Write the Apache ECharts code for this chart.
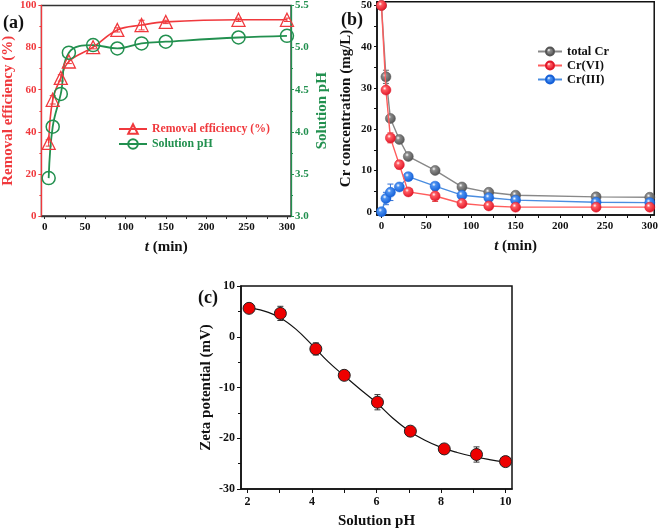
<!DOCTYPE html>
<html><head><meta charset="utf-8">
<script src="https://cdn.jsdelivr.net/npm/echarts@6/dist/echarts.min.js"></script>
<style>html,body{margin:0;padding:0;background:#fff}#c{width:661px;height:530px}</style>
</head><body><div id="c"></div>
<script>
// ---------- Data ----------
// Panel (a)
const timeA = [5, 10, 20, 30, 60, 90, 120, 150, 240, 300];
const removalEff = [34.7, 55.2, 65.6, 73.4, 80.2, 88.4, 90.7, 92.2, 93.2, 93.2];
const removalErr = [1.5, 2.0, 1.5, 1.0, 0.8, 1.0, 2.3, 0.8, 0.8, 0.8];
const solutionPH = [3.45, 4.06, 4.45, 4.94, 5.03, 4.99, 5.05, 5.07, 5.12, 5.14];
const xTicksT = [0, 50, 100, 150, 200, 250, 300];
const xMinorT = [0, 25, 50, 75, 100, 125, 150, 175, 200, 225, 250, 275, 300];
// Panel (b)
const timeB = [0, 5, 10, 20, 30, 60, 90, 120, 150, 240, 300];
const totalCr = [50, 32.7, 22.6, 17.5, 13.4, 10.0, 6.0, 4.7, 4.0, 3.6, 3.5];
const totalCrErr = [0, 1.6, 0.5, 0.5, 0.3, 0.5, 0.3, 0.3, 0.3, 0.3, 0.3];
const cr6 = [50, 29.5, 17.9, 11.4, 4.8, 3.8, 2.0, 1.4, 1.1, 1.1, 1.1];
const cr6Err = [0, 0.5, 1.2, 1.0, 0.5, 1.3, 0.3, 0.3, 0.3, 0.3, 0.3];
const cr3 = [0, 3.2, 4.7, 6.0, 8.5, 6.2, 4.0, 3.4, 2.8, 2.3, 2.2];
const cr3Err = [0, 1.5, 2.0, 0.5, 0.5, 0.5, 0.3, 0.3, 0.3, 0.3, 0.3];
const yTicksB = [0, 10, 20, 30, 40, 50];
const yMinorB = [0, 5, 10, 15, 20, 25, 30, 35, 40, 45, 50];
// Panel (c)
const pHc = [2.05, 3.02, 4.12, 5.0, 6.03, 7.05, 8.1, 9.1, 10.0];
const zeta = [5.6, 4.6, -2.4, -7.6, -12.9, -18.6, -22.1, -23.2, -24.6];
const zetaErr = [0.8, 1.4, 1.2, 0.4, 1.5, 0.5, 0.4, 1.5, 0.4];
// fitted curve
const fitPH = [2.0, 2.5, 3.0, 3.5, 4.0, 4.5, 5.0, 5.5, 6.0, 6.5, 7.0, 7.5, 8.0, 8.5, 9.0, 9.5, 10.0];
const fitZeta = [5.8, 5.1, 3.8, 1.5, -1.6, -4.9, -7.7, -10.4, -13.0, -16.0, -18.5, -20.4, -21.8, -22.8, -23.6, -24.2, -24.7];
const xTicksC = [2, 4, 6, 8, 10];
const xMinorC = [2, 3, 4, 5, 6, 7, 8, 9, 10];

// ---------- Styles ----------
const FF = '"Liberation Serif", "Times New Roman", serif';
const RED = '#f0393d';
const GREEN = '#22904f';
const BLK = '#111';

function pairs(xs, ys) { return xs.map((x, i) => [x, ys[i]]); }
function errBars(xs, ys, es, xi, yi, color, cap) {
  return {
    type: 'custom', xAxisIndex: xi, yAxisIndex: yi, z: 1, silent: true,
    encode: { x: 0, y: [1, 2] },
    data: xs.map((x, i) => [x, ys[i] - es[i], ys[i] + es[i]]),
    renderItem: function (params, api) {
      const lo = api.coord([api.value(0), api.value(1)]);
      const hi = api.coord([api.value(0), api.value(2)]);
      const st = { stroke: color, lineWidth: 1 };
      return { type: 'group', children: [
        { type: 'line', shape: { x1: lo[0], y1: lo[1], x2: hi[0], y2: hi[1] }, style: st },
        { type: 'line', shape: { x1: lo[0] - cap, y1: lo[1], x2: lo[0] + cap, y2: lo[1] }, style: st },
        { type: 'line', shape: { x1: hi[0] - cap, y1: hi[1], x2: hi[0] + cap, y2: hi[1] }, style: st }
      ]};
    }
  };
}
function sphere(base, light) {
  return { type: 'radial', x: 0.38, y: 0.35, r: 0.65,
    colorStops: [{ offset: 0, color: '#ffffff' }, { offset: 0.28, color: light }, { offset: 1, color: base }] };
}
const lbl = (color, extra) => Object.assign({ fontFamily: FF, fontWeight: 'bold', fontSize: 11, color: color, margin: 6 }, extra || {});
const nameStyle = (color) => ({ fontFamily: FF, fontWeight: 'bold', fontSize: 15, color: color,
  rich: { i: { fontFamily: FF, fontWeight: 'bold', fontStyle: 'italic', fontSize: 15, color: color } } });

const option = {
  animation: false,
  backgroundColor: '#fff',
  title: [
    { text: '(a)', left: -2, top: 9, textStyle: { fontFamily: FF, fontWeight: 'bold', fontSize: 18, color: BLK } },
    { text: '(b)', left: 336, top: 6, textStyle: { fontFamily: FF, fontWeight: 'bold', fontSize: 18, color: BLK } },
    { text: '(c)', left: 193, top: 284, textStyle: { fontFamily: FF, fontWeight: 'bold', fontSize: 18, color: BLK } }
  ],
  legend: [
    { left: 113, top: 118, orient: 'vertical', itemGap: 3, itemWidth: 28, itemHeight: 12,
      data: [
        { name: 'Removal efficiency (%)', textStyle: { color: RED } },
        { name: 'Solution pH', textStyle: { color: GREEN } }
      ],
      textStyle: { fontFamily: FF, fontWeight: 'bold', fontSize: 11.8 } },
    { left: 532, top: 40, orient: 'vertical', itemGap: 1, itemWidth: 24, itemHeight: 10,
      data: ['total Cr', 'Cr(VI)', 'Cr(III)'],
      textStyle: { fontFamily: FF, fontWeight: 'bold', fontSize: 12.5, color: BLK } }
  ],
  grid: [
    { left: 39, top: 5, width: 252, height: 211, show: true, borderColor: '#333', borderWidth: 1.3, backgroundColor: 'transparent' },
    { left: 377, top: 1, width: 281, height: 214, show: true, borderColor: '#111', borderWidth: 1.5, backgroundColor: 'transparent' },
    { left: 241, top: 286, width: 271, height: 203, show: true, borderColor: '#111', borderWidth: 1.5, backgroundColor: 'transparent' }
  ],
  xAxis: [
    { gridIndex: 0, type: 'value', min: -4, max: 305,
      axisLine: { onZero: false, lineStyle: { color: '#333', width: 1.3 } },
      axisTick: { customValues: xMinorT, length: 3, lineStyle: { color: '#333' } },
      axisLabel: lbl(BLK, { customValues: xTicksT }), splitLine: { show: false },
      name: '{i|t} (min)', nameLocation: 'middle', nameGap: 24, nameTextStyle: nameStyle(BLK) },
    { gridIndex: 1, type: 'value', min: -5, max: 305,
      axisLine: { onZero: false, lineStyle: { color: '#111', width: 1.5 } },
      axisTick: { customValues: xMinorT, length: 3, lineStyle: { color: '#111' } },
      axisLabel: lbl(BLK, { customValues: xTicksT }), splitLine: { show: false },
      name: '{i|t} (min)', nameLocation: 'middle', nameGap: 24, nameTextStyle: nameStyle(BLK) },
    { gridIndex: 2, type: 'value', min: 1.8, max: 10.2,
      axisLine: { onZero: false, lineStyle: { color: '#111', width: 1.5 } },
      axisTick: { customValues: xMinorC, length: 4, lineStyle: { color: '#111' } },
      axisLabel: lbl(BLK, { customValues: xTicksC, fontSize: 12, margin: 7 }), splitLine: { show: false },
      name: 'Solution pH', nameLocation: 'middle', nameGap: 25, nameTextStyle: nameStyle(BLK) }
  ],
  yAxis: [
    { gridIndex: 0, type: 'value', min: 0, max: 100, interval: 20,
      axisLine: { show: true, onZero: false, lineStyle: { color: RED, width: 1.3 } },
      axisTick: { show: true, length: 3, lineStyle: { color: RED } },
      minorTick: { show: true, splitNumber: 2, length: 2, lineStyle: { color: RED } },
      axisLabel: lbl(RED, { margin: 5 }), splitLine: { show: false },
      name: 'Removal efficiency (%)', nameLocation: 'middle', nameGap: 17, nameTextStyle: nameStyle(RED) },
    { gridIndex: 0, type: 'value', position: 'right', min: 3, max: 5.5, interval: 0.5,
      axisLine: { show: true, onZero: false, lineStyle: { color: GREEN, width: 1.3 } },
      axisTick: { show: true, length: 3, lineStyle: { color: GREEN } },
      minorTick: { show: true, splitNumber: 2, length: 2, lineStyle: { color: GREEN } },
      axisLabel: lbl(GREEN, { margin: 4, formatter: v => v.toFixed(1) }), splitLine: { show: false },
      name: 'Solution pH', nameLocation: 'middle', nameGap: 24, nameTextStyle: nameStyle(GREEN) },
    { gridIndex: 1, type: 'value', min: -0.8, max: 50.9,
      axisLine: { show: true, onZero: false, lineStyle: { color: '#111', width: 1.5 } },
      axisTick: { show: true, customValues: yMinorB, length: 3, lineStyle: { color: '#111' } },
      axisLabel: lbl(BLK, { customValues: yTicksB, margin: 5 }), splitLine: { show: false },
      name: 'Cr concentration (mg/L)', nameLocation: 'middle', nameGap: 23, nameTextStyle: nameStyle(BLK) },
    { gridIndex: 2, type: 'value', min: -30, max: 10, interval: 10,
      axisLine: { show: true, onZero: false, lineStyle: { color: '#111', width: 1.5 } },
      axisTick: { show: true, length: 4, lineStyle: { color: '#111' } },
      minorTick: { show: true, splitNumber: 2, length: 3, lineStyle: { color: '#111' } },
      axisLabel: lbl(BLK, { fontSize: 12, margin: 6 }), splitLine: { show: false },
      name: 'Zeta potential (mV)', nameLocation: 'middle', nameGap: 27, nameTextStyle: nameStyle(BLK) }
  ],
  series: [
    // (a)
    errBars(timeA, removalEff, removalErr, 0, 0, RED, 3),
    { name: 'Removal efficiency (%)', type: 'line', xAxisIndex: 0, yAxisIndex: 0, smooth: 0.4,
      data: pairs(timeA, removalEff), symbol: 'triangle', symbolSize: 13,
      itemStyle: { color: 'rgba(255,255,255,0)', borderColor: RED, borderWidth: 1.3 },
      lineStyle: { color: RED, width: 1.6 }, z: 3 },
    { name: 'Solution pH', type: 'line', xAxisIndex: 0, yAxisIndex: 1, smooth: 0.4,
      data: pairs(timeA, solutionPH), symbol: 'circle', symbolSize: 13,
      itemStyle: { color: 'rgba(255,255,255,0)', borderColor: GREEN, borderWidth: 1.5 },
      lineStyle: { color: GREEN, width: 1.8 }, z: 3 },
    // (b)
    errBars(timeB, totalCr, totalCrErr, 1, 2, '#666', 3),
    errBars(timeB, cr6, cr6Err, 1, 2, '#e23a3a', 3),
    errBars(timeB, cr3, cr3Err, 1, 2, '#2f6fd6', 3),
    { name: 'total Cr', type: 'line', xAxisIndex: 1, yAxisIndex: 2,
      data: pairs(timeB, totalCr), symbol: 'circle', symbolSize: 10,
      itemStyle: { color: sphere('#555555', '#8a8a8a'), borderColor: '#555', borderWidth: 0.5 },
      lineStyle: { color: '#888', width: 1.4 }, z: 3 },
    { name: 'Cr(VI)', type: 'line', xAxisIndex: 1, yAxisIndex: 2,
      data: pairs(timeB, cr6), symbol: 'circle', symbolSize: 10,
      itemStyle: { color: sphere('#e0182a', '#ff5a60'), borderColor: '#e0182a', borderWidth: 0.5 },
      lineStyle: { color: '#ff5c5c', width: 1.4 }, z: 4 },
    { name: 'Cr(III)', type: 'line', xAxisIndex: 1, yAxisIndex: 2,
      data: pairs(timeB, cr3), symbol: 'circle', symbolSize: 10,
      itemStyle: { color: sphere('#1560d8', '#4a90f0'), borderColor: '#1560d8', borderWidth: 0.5 },
      lineStyle: { color: '#4a8de0', width: 1.4 }, z: 3 },
    // (c)
    { name: 'zetaFit', type: 'line', xAxisIndex: 2, yAxisIndex: 3, smooth: 0.4,
      data: pairs(fitPH, fitZeta), symbol: 'none', lineStyle: { color: '#111', width: 1.2 }, z: 2 },
    errBars(pHc, zeta, zetaErr, 2, 3, '#333', 3),
    { name: 'zetaPts', type: 'scatter', xAxisIndex: 2, yAxisIndex: 3,
      data: pairs(pHc, zeta), symbol: 'circle', symbolSize: 12,
      itemStyle: { color: '#ee0000', borderColor: '#222', borderWidth: 1, opacity: 1 }, z: 3 }
  ]
};
const chart = echarts.init(document.getElementById('c'), null, { renderer: 'canvas' });
chart.setOption(option);
</script></body></html>
